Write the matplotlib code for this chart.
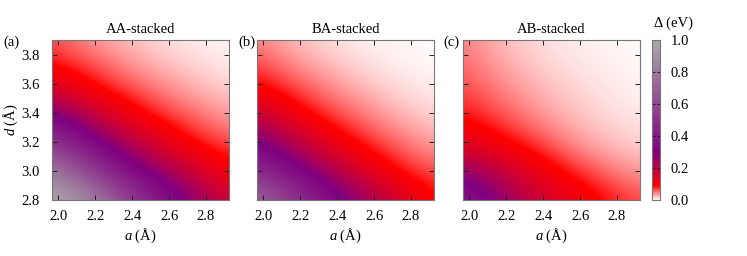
import matplotlib
matplotlib.use('Agg')
import matplotlib.pyplot as plt
import numpy as np
from matplotlib.colors import LinearSegmentedColormap

plt.rcParams['font.family'] = ['Liberation Serif', 'DejaVu Serif']
plt.rcParams['mathtext.fontset'] = 'custom'
plt.rcParams['mathtext.it'] = 'Liberation Serif:italic'
plt.rcParams['mathtext.rm'] = 'Liberation Serif'
plt.rcParams['font.size'] = 10.5

# grid nodes
a_nodes = [1.965, 2.157, 2.349, 2.541, 2.733, 2.925]
d_nodes = [2.8, 2.983, 3.167, 3.35, 3.533, 3.717, 3.9]

# gap (eV), rows = d from bottom to top, cols = a
gap_aa = [[1.0, 0.9, 0.62, 0.4, 0.277, 0.17],
          [0.85, 0.6, 0.38, 0.264, 0.178, 0.10],
          [0.55, 0.37, 0.248, 0.157, 0.087, 0.068],
          [0.34, 0.229, 0.132, 0.08, 0.06, 0.036],
          [0.18, 0.105, 0.074, 0.05, 0.031, 0.019],
          [0.088, 0.068, 0.043, 0.027, 0.016, 0.008],
          [0.062, 0.038, 0.024, 0.013, 0.006, 0.003]]
gap_ba = [[0.75, 0.54, 0.37, 0.26, 0.167, 0.088],
          [0.5, 0.35, 0.245, 0.153, 0.084, 0.064],
          [0.33, 0.232, 0.136, 0.081, 0.058, 0.034],
          [0.216, 0.121, 0.077, 0.053, 0.031, 0.017],
          [0.104, 0.073, 0.048, 0.029, 0.015, 0.007],
          [0.07, 0.043, 0.026, 0.013, 0.006, 0.003],
          [0.042, 0.024, 0.012, 0.0055, 0.0025, 0.0012]]
gap_ab = [[0.40, 0.29, 0.19, 0.13, 0.09, 0.065],
          [0.28, 0.2, 0.13, 0.082, 0.055, 0.035],
          [0.15, 0.105, 0.075, 0.045, 0.027, 0.017],
          [0.09, 0.068, 0.045, 0.027, 0.015, 0.009],
          [0.068, 0.048, 0.03, 0.018, 0.01, 0.005],
          [0.055, 0.035, 0.02, 0.011, 0.006, 0.003],
          [0.045, 0.025, 0.013, 0.007, 0.004, 0.002]]

titles = ['AA-stacked', 'BA-stacked', 'AB-stacked']
tags = ['(a)', '(b)', '(c)']
xticks = [2.0, 2.2, 2.4, 2.6, 2.8]
yticks = [2.8, 3.0, 3.2, 3.4, 3.6, 3.8]
cb_ticks = [0.0, 0.2, 0.4, 0.6, 0.8, 1.0]

cmap = LinearSegmentedColormap.from_list('gap', [(0.0, '#ffffff'), (0.09, '#ff0000'),
                                                 (0.3, '#800080'), (1.0, '#aaaaaa')], N=2048)

fig = plt.figure(figsize=(7.47, 2.56), dpi=100)
W, H = 747., 256.
lefts = [52, 257, 463]
tag_x = [3, 238, 443]
da = a_nodes[1] - a_nodes[0]
dd = d_nodes[1] - d_nodes[0]
ext = [a_nodes[0] - da / 2, a_nodes[-1] + da / 2, d_nodes[0] - dd / 2, d_nodes[-1] + dd / 2]

for i, gap in enumerate([gap_aa, gap_ba, gap_ab]):
    ax = fig.add_axes([lefts[i] / W, 56 / H, 177 / W, 160 / H])
    im = ax.imshow(np.array(gap), origin='lower', extent=ext, cmap=cmap, vmin=0, vmax=1,
                   interpolation='bicubic', interpolation_stage='data', aspect='auto')
    ax.set_xlim(a_nodes[0], a_nodes[-1])
    ax.set_ylim(d_nodes[0], d_nodes[-1])
    ax.set_xticks(xticks)
    ax.set_xticklabels(['%.1f' % t for t in xticks])
    ax.set_yticks(yticks)
    if i == 0:
        ax.set_yticklabels(['%.1f' % t for t in yticks])
        ax.set_ylabel(r'$d$ (Å)', labelpad=1)
    else:
        ax.set_yticklabels([])
    ax.tick_params(direction='in', top=True, right=True, length=3.5, width=0.7,
                   labelsize=10.5, color='#222222')
    ax.tick_params(axis='x', pad=7)
    ax.tick_params(axis='y', pad=9)
    for s in ax.spines.values():
        s.set_color('#777777')
        s.set_linewidth(0.8)
    ax.set_xlabel(r'$a$ (Å)', labelpad=3)
    ax.set_title(titles[i], fontsize=10.5, pad=5)
    fig.text(tag_x[i] / W, 1 - 42 / H, tags[i], fontsize=10.5, va='center', ha='left')

cax = fig.add_axes([652 / W, 56 / H, 7.5 / W, 160 / H])
cb = fig.colorbar(im, cax=cax, ticks=cb_ticks)
cb.ax.set_yticklabels(['%.1f' % t for t in cb_ticks])
cb.ax.tick_params(direction='in', left=True, right=True, length=2.5, width=0.7,
                  labelsize=10.5, pad=8, color='#222222')
cb.outline.set_edgecolor('#777777')
cb.outline.set_linewidth(0.8)
fig.text(673 / W, 1 - 23 / H, 'Δ (eV)', fontsize=10.5, ha='center', va='center')

fig.savefig('out.png', dpi=100)
